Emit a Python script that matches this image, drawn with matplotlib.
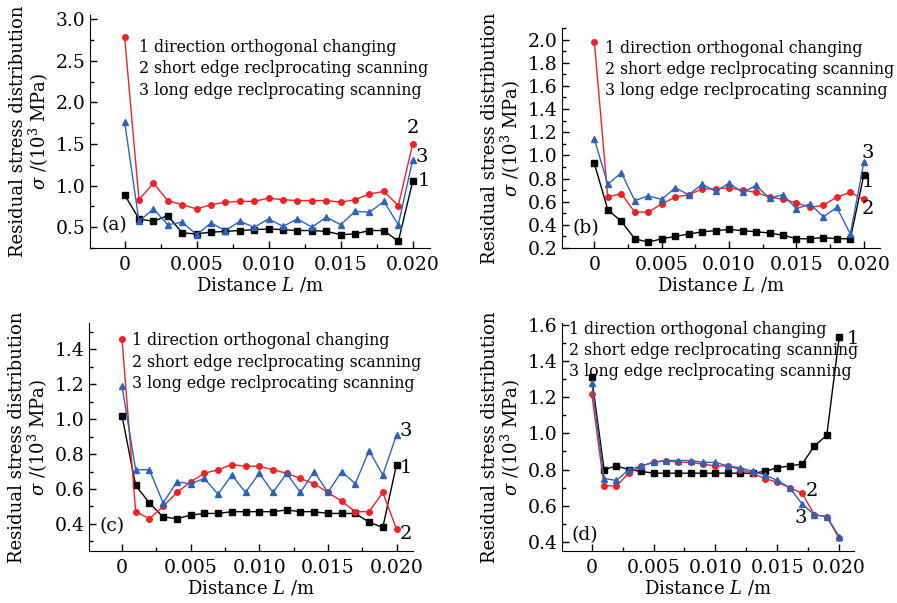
import numpy as np
import matplotlib
matplotlib.use("Agg")
import matplotlib.pyplot as plt
from matplotlib.ticker import MultipleLocator, FormatStrFormatter

plt.rcParams['font.family'] = 'DejaVu Serif'
plt.rcParams['mathtext.fontset'] = 'dejavuserif'

# distance along the sample (m)
dist = [i * 0.001 for i in range(21)]

# (a)
a_s1 = [0.89, 0.60, 0.57, 0.64, 0.43, 0.42, 0.44, 0.45, 0.46, 0.47, 0.48,
        0.47, 0.46, 0.46, 0.45, 0.41, 0.42, 0.46, 0.46, 0.33, 1.05]
a_s2 = [2.79, 0.83, 1.03, 0.82, 0.77, 0.72, 0.77, 0.80, 0.81, 0.81, 0.85,
        0.83, 0.82, 0.82, 0.82, 0.80, 0.83, 0.90, 0.93, 0.76, 1.50]
a_s3 = [1.77, 0.57, 0.72, 0.53, 0.56, 0.41, 0.55, 0.46, 0.57, 0.50, 0.60,
        0.51, 0.60, 0.50, 0.62, 0.53, 0.69, 0.68, 0.81, 0.53, 1.31]

# (b)
b_s1 = [0.93, 0.53, 0.43, 0.28, 0.25, 0.28, 0.30, 0.32, 0.34, 0.35, 0.36,
        0.35, 0.34, 0.33, 0.31, 0.28, 0.28, 0.29, 0.28, 0.28, 0.83]
b_s2 = [1.98, 0.64, 0.67, 0.51, 0.51, 0.58, 0.64, 0.66, 0.71, 0.71, 0.72,
        0.70, 0.68, 0.64, 0.62, 0.59, 0.55, 0.57, 0.64, 0.68, 0.62]
b_s3 = [1.14, 0.75, 0.85, 0.61, 0.65, 0.62, 0.72, 0.66, 0.75, 0.69, 0.76,
        0.68, 0.74, 0.63, 0.66, 0.54, 0.58, 0.47, 0.55, 0.32, 0.94]

# (c)
c_s1 = [1.02, 0.62, 0.52, 0.44, 0.43, 0.45, 0.46, 0.46, 0.47, 0.47, 0.47,
        0.47, 0.48, 0.47, 0.47, 0.46, 0.46, 0.46, 0.41, 0.38, 0.74]
c_s2 = [1.46, 0.47, 0.43, 0.50, 0.58, 0.64, 0.69, 0.71, 0.74, 0.73, 0.73,
        0.71, 0.69, 0.66, 0.63, 0.58, 0.53, 0.47, 0.47, 0.58, 0.37]
c_s3 = [1.19, 0.71, 0.71, 0.52, 0.64, 0.63, 0.66, 0.57, 0.68, 0.58, 0.69,
        0.58, 0.69, 0.58, 0.70, 0.58, 0.70, 0.63, 0.82, 0.68, 0.91]

# (d)
d_s1 = [1.31, 0.80, 0.82, 0.80, 0.79, 0.78, 0.78, 0.78, 0.78, 0.78, 0.78,
        0.78, 0.78, 0.78, 0.79, 0.81, 0.82, 0.83, 0.93, 0.99, 1.53]
d_s2 = [1.22, 0.71, 0.71, 0.78, 0.82, 0.84, 0.85, 0.84, 0.84, 0.83, 0.82,
        0.82, 0.80, 0.78, 0.75, 0.73, 0.70, 0.67, 0.55, 0.54, 0.42]
d_s3 = [1.28, 0.75, 0.74, 0.80, 0.82, 0.84, 0.85, 0.85, 0.85, 0.84, 0.84,
        0.82, 0.81, 0.79, 0.77, 0.74, 0.70, 0.61, 0.55, 0.54, 0.43]

legend_lines = ["1 direction orthogonal changing",
                "2 short edge reclprocating scanning",
                "3 long edge reclprocating scanning"]

fig = plt.figure(figsize=(8.97, 6.03), dpi=100)
W, H = 897.0, 603.0

def make_ax(l, r, t, b):
    return fig.add_axes([l / W, 1 - b / H, (r - l) / W, (b - t) / H])

panels = [
    dict(box=(90, 430, 15, 248), s=(a_s1, a_s2, a_s3), ylim=(0.25, 3.05),
         major=0.5, minor=0.25, letter="(a)", letter_y=0.52, leg=(0.0010, 2.66, 0.256),
         ends={1: (0.0208, 1.06), 2: (0.0200, 1.69), 3: (0.0206, 1.34)}),
    dict(box=(562, 880, 28, 248), s=(b_s1, b_s2, b_s3), ylim=(0.2, 2.1),
         major=0.2, minor=0.1, letter="(b)", letter_y=0.37, leg=(0.0008, 1.92, 0.18),
         ends={1: (0.0203, 0.77), 2: (0.0203, 0.54), 3: (0.0203, 1.02)}),
    dict(box=(89, 413, 323, 551), s=(c_s1, c_s2, c_s3), ylim=(0.245, 1.55),
         major=0.2, minor=0.1, letter="(c)", letter_y=0.39, leg=(0.0007, 1.45, 0.124),
         ends={1: (0.0207, 0.72), 2: (0.0207, 0.34), 3: (0.0207, 0.93)}),
    dict(box=(562, 854, 323, 551), s=(d_s1, d_s2, d_s3), ylim=(0.35, 1.61),
         major=0.2, minor=0.1, letter="(d)", letter_y=0.44, leg=(-0.0018, 1.576, 0.117),
         ends={1: (0.0211, 1.52), 2: (0.0178, 0.68), 3: (0.0169, 0.53)}),
]

for p in panels:
    ax = make_ax(*p["box"])
    s1, s2, s3 = p["s"]
    ax.plot(dist, s1, color="black", marker="s", markersize=4, lw=1, zorder=3)
    ax.plot(dist, s2, color="#ee2222", marker="o", markersize=4, lw=1, zorder=3)
    ax.plot(dist, s3, color="#2a62bc", marker="^", markersize=4.5, lw=1, zorder=3)

    ax.set_xlim(-0.0024, 0.0212)
    ax.set_ylim(*p["ylim"])
    ax.xaxis.set_major_locator(MultipleLocator(0.005))
    ax.xaxis.set_minor_locator(MultipleLocator(0.0025))
    ax.yaxis.set_major_locator(MultipleLocator(p["major"]))
    ax.yaxis.set_minor_locator(MultipleLocator(p["minor"]))
    ax.xaxis.set_major_formatter(lambda v, pos: "0" if abs(v) < 1e-9 else f"{v:.3f}")
    ax.yaxis.set_major_formatter(FormatStrFormatter("%.1f"))
    ax.tick_params(which="both", direction="in", labelsize=13.5, width=1)
    ax.tick_params(which="major", length=5)
    ax.tick_params(which="minor", length=3)
    ax.tick_params(axis="x", pad=6)
    ax.spines["top"].set_visible(False)
    ax.spines["right"].set_visible(False)

    ax.set_xlabel("Distance $L$ /m", fontsize=13, labelpad=1)
    ax.set_ylabel("Residual stress distribution\n$\\sigma$ /(10$^3$ MPa)",
                  fontsize=13, linespacing=1.0, labelpad=3)

    ax.text(-0.0016, p["letter_y"], p["letter"], fontsize=13.5, va="center")
    lx, ly, dy = p["leg"]
    for i, t in enumerate(legend_lines):
        ax.text(lx, ly - i * dy, t, fontsize=11.3, va="center")
    for k, (ex, ey) in p["ends"].items():
        ax.text(ex, ey, str(k), fontsize=14, va="center", ha="center")

fig.savefig("out.png", dpi=100)
